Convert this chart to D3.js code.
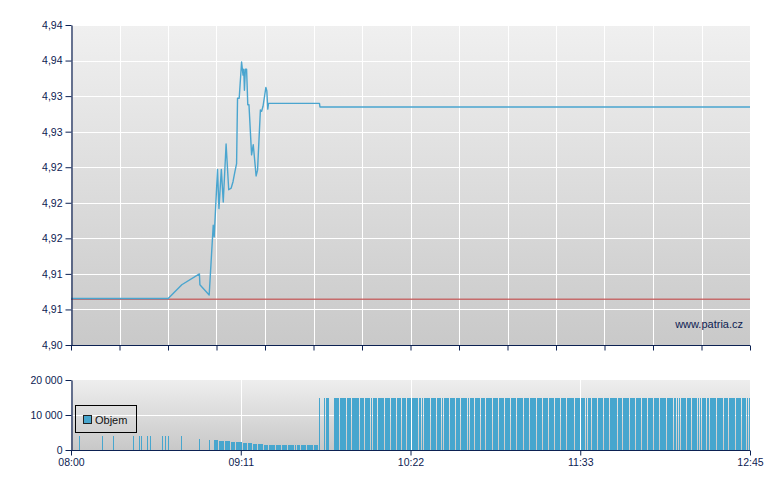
<!DOCTYPE html>
<html>
<head>
<meta charset="utf-8">
<script src="https://cdn.jsdelivr.net/npm/d3@7"></script>
<style>
  html, body { margin: 0; padding: 0; background: #ffffff; }
  svg { display: block; font-family: "Liberation Sans", Arial, sans-serif; }
</style>
</head>
<body>
<svg id="chart" width="780" height="490"></svg>
<script>
// ---------- DATA ----------
// price trace: minutes after 08:00 and price
const priceTime = [0, 40.8, 46.5, 53.9, 54.1, 58.0, 59.7, 60.1, 61.5, 62.1, 63.1, 63.9, 65.1, 66.2, 67.2, 68.0, 68.8, 69.5, 69.9, 70.6, 71.6, 72.2, 72.5, 72.8, 73.2, 73.7, 74.2, 74.7, 75.8, 76.5, 77.7, 78.3, 79.5, 80.0, 80.6, 81.8, 82.2, 82.6, 82.9, 104.3, 104.5, 285];
const priceValue = [4.9067, 4.9067, 4.9086, 4.9101, 4.9086, 4.9072, 4.9168, 4.9152, 4.9245, 4.9191, 4.9245, 4.9200, 4.9280, 4.9217, 4.9219, 4.9228, 4.9242, 4.9253, 4.9343, 4.9343, 4.9393, 4.9375, 4.9383, 4.9354, 4.9383, 4.9383, 4.9334, 4.9334, 4.9265, 4.9279, 4.9236, 4.9244, 4.9327, 4.9325, 4.9332, 4.9358, 4.9353, 4.9328, 4.9336, 4.9336, 4.9331, 4.9331];
const previousClose = 4.9066;

// volume: each entry starts at its time and lasts until the next entry
const volTime = [3.5, 4.0, 13.1, 13.6, 17.8, 18.3, 26.1, 26.6, 28.7, 29.2, 29.5, 30.0, 32.0, 32.5, 33.3, 33.8, 38.3, 38.8, 39.6, 40.1, 40.8, 41.3, 46.3, 46.8, 53.9, 54.4, 58.0, 58.5,
  60.0, 62.3, 64.8, 67.2, 69.3, 72.4, 74.3, 76.6, 78.7, 80.8, 83.3, 86.0, 88.6, 91.1, 94.0, 94.9, 96.5, 99.1, 102.0, 103.9,
  104.1, 104.6, 106.2, 106.9, 108.9, 110.4, 112.9, 115.8, 117.9, 121.3, 123.4, 125.9, 126.8, 128.9, 131.8, 134.3, 136.8, 138.9,
  141.0, 143.1, 146.1, 147.3, 148.2, 151.1, 153.6, 155.7, 156.6, 159.1, 161.6, 163.7, 166.6, 167.5, 169.6, 172.1, 174.2, 177.1,
  179.6, 182.2, 184.7, 187.2, 190.1, 192.7, 195.6, 198.1, 200.6, 203.1, 205.7, 208.2, 211.5, 214.1, 216.2, 217.0, 218.7, 221.2,
  223.7, 226.2, 229.6, 231.7, 234.6, 237.1, 239.7, 242.2, 244.7, 247.2, 250.2, 253.1, 254.4, 255.2, 256.0, 258.6, 260.7, 263.2,
  264.0, 264.8, 266.9, 268.2, 271.2, 274.1, 276.2, 279.1, 281.6, 283.7, 284.6];
const volValue = [4000, 0, 4000, 0, 4000, 0, 4000, 0, 4000, 0, 4000, 0, 4000, 0, 4000, 0, 4000, 0, 4000, 0, 4000, 0, 4000, 0, 3150, 0, 2850, 0,
  2850, 2600, 2570, 2300, 2300, 2100, 2050, 1750, 1750, 1450, 1450, 1450, 1450, 1450, 1450, 1450, 1450, 1450, 1450, 0,
  15000, 0, 15000, 15000, 0, 15000, 15000, 15000, 15000, 15000, 15000, 15000, 15000, 15000, 15000, 15000, 15000, 15000,
  15000, 15000, 15000, 15000, 15000, 15000, 15000, 15000, 15000, 15000, 15000, 15000, 15000, 15000, 15000, 15000, 15000, 15000,
  15000, 15000, 15000, 15000, 15000, 15000, 15000, 15000, 15000, 15000, 15000, 15000, 15000, 15000, 15000, 15000, 15000, 15000,
  15000, 15000, 15000, 15000, 15000, 15000, 15000, 15000, 15000, 15000, 15000, 15000, 15000, 15000, 15000, 15000, 15000, 15000,
  15000, 15000, 15000, 15000, 15000, 15000, 15000, 15000, 15000, 15000, 15000];
const sessionEnd = 285;

// ticks
const yTickValues = [4.9003, 4.9052, 4.9101, 4.9150, 4.9199, 4.9248, 4.9297, 4.9346, 4.9395, 4.9444];
const yTickLabels = ["4,90", "4,91", "4,91", "4,92", "4,92", "4,92", "4,93", "4,93", "4,94", "4,94"];
const xTickValues = [0, 71.25, 142.5, 213.75, 285];
const xTickLabels = ["08:00", "09:11", "10:22", "11:33", "12:45"];
const volTickValues = [0, 10000, 20000];
const volTickLabels = ["0", "10 000", "20 000"];
const legendLabel = "Objem";
const watermark = "www.patria.cz";

// ---------- LAYOUT ----------
const L = 71, R = 750;
const mainTop = 25, mainBottom = 345;
const volTop = 380, volBottom = 450;
const navy = "#0c2152";
const lineBlue = "#4aa5cf";
const barBlue = "#47a6ce";

const svg = d3.select("#chart");
const defs = svg.append("defs");
const g1 = defs.append("linearGradient").attr("id", "bgMain").attr("x1", 0).attr("y1", 0).attr("x2", 0).attr("y2", 1);
g1.append("stop").attr("offset", "0%").attr("stop-color", "#f0f0f0");
g1.append("stop").attr("offset", "100%").attr("stop-color", "#c9c9c9");
const g2 = defs.append("linearGradient").attr("id", "bgVol").attr("x1", 0).attr("y1", 0).attr("x2", 0).attr("y2", 1);
g2.append("stop").attr("offset", "0%").attr("stop-color", "#eeeeee");
g2.append("stop").attr("offset", "100%").attr("stop-color", "#c8c8c8");

const x = d3.scaleLinear().domain([0, sessionEnd]).range([L, R]);
const y = d3.scaleLinear().domain([yTickValues[0], yTickValues[yTickValues.length - 1]]).range([mainBottom, mainTop]);
const yv = d3.scaleLinear().domain([0, 20000]).range([volBottom, volTop]);

// ---------- MAIN PANEL ----------
svg.append("rect").attr("x", L).attr("y", mainTop).attr("width", R - L).attr("height", mainBottom - mainTop).attr("fill", "url(#bgMain)");

const mainXTicks = d3.range(15).map(i => i * sessionEnd / 14);
const grid = svg.append("g").attr("stroke", "#ffffff").attr("stroke-width", 1.2).attr("shape-rendering", "crispEdges");
grid.selectAll("line.h").data(yTickValues.slice(1)).join("line")
  .attr("x1", L).attr("x2", R).attr("y1", d => Math.round(y(d)) + 0.5).attr("y2", d => Math.round(y(d)) + 0.5);
grid.selectAll("line.v").data(mainXTicks.slice(1)).join("line")
  .attr("y1", mainTop).attr("y2", mainBottom).attr("x1", d => Math.round(x(d)) + 0.5).attr("x2", d => Math.round(x(d)) + 0.5);

// previous close
svg.append("line").attr("x1", L).attr("x2", R)
  .attr("y1", y(previousClose)).attr("y2", y(previousClose))
  .attr("stroke", "#c45a5a").attr("stroke-width", 1.4).attr("stroke-opacity", 0.85);

// price line
const priceData = priceTime.map((t, i) => [t, priceValue[i]]);
svg.append("path").datum(priceData)
  .attr("d", d3.line().x(d => x(d[0])).y(d => y(d[1])))
  .attr("fill", "none").attr("stroke", lineBlue).attr("stroke-width", 1.4).attr("stroke-linejoin", "round");

// watermark
svg.append("text").attr("x", 743).attr("y", 328).attr("text-anchor", "end")
  .attr("font-size", "11px").attr("fill", navy).text(watermark);

// axes main
const yAxis = d3.axisLeft(y).tickValues(yTickValues).tickFormat((d, i) => yTickLabels[i]).tickSize(6).tickSizeOuter(0).tickPadding(3);
const ya = svg.append("g").attr("transform", `translate(${L + 0.5},0)`).call(yAxis);
const xAxisMain = d3.axisBottom(x).tickValues(mainXTicks).tickFormat("").tickSize(5).tickSizeOuter(0);
const xa = svg.append("g").attr("transform", `translate(0,${mainBottom + 0.5})`).call(xAxisMain);

// ---------- VOLUME PANEL ----------
svg.append("rect").attr("x", L).attr("y", volTop).attr("width", R - L).attr("height", volBottom - volTop).attr("fill", "url(#bgVol)");
const vgrid = svg.append("g").attr("stroke", "#ffffff").attr("stroke-width", 1.2).attr("shape-rendering", "crispEdges");
vgrid.selectAll("line.h").data([10000]).join("line")
  .attr("x1", L).attr("x2", R).attr("y1", d => Math.round(yv(d)) + 0.5).attr("y2", d => Math.round(yv(d)) + 0.5);
vgrid.selectAll("line.v").data(xTickValues.slice(1, -1)).join("line")
  .attr("y1", volTop).attr("y2", volBottom).attr("x1", d => Math.round(x(d)) + 0.5).attr("x2", d => Math.round(x(d)) + 0.5);

const bars = volTime.map((t, i) => ({ t, v: volValue[i], next: i < volTime.length - 1 ? volTime[i + 1] : sessionEnd }))
  .filter(d => d.v > 0);
svg.append("g").attr("shape-rendering", "crispEdges").selectAll("rect").data(bars).join("rect")
  .attr("x", d => Math.round(x(d.t)))
  .attr("width", d => Math.max(1, Math.round(x(d.next)) - Math.round(x(d.t)) - 1))
  .attr("y", d => yv(d.v))
  .attr("height", d => yv(0) - yv(d.v))
  .attr("fill", barBlue);

// legend
const lg = svg.append("g");
lg.append("rect").attr("x", 75.5).attr("y", 405.5).attr("width", 61).attr("height", 27)
  .attr("fill", "none").attr("stroke", "#000000").attr("stroke-width", 1);
lg.append("rect").attr("x", 83.5).attr("y", 415.5).attr("width", 8).attr("height", 8)
  .attr("fill", barBlue).attr("stroke", "#222222").attr("stroke-width", 1);
lg.append("text").attr("x", 95).attr("y", 424).attr("font-size", "11px").attr("fill", "#111111").text(legendLabel);

// axes volume
const yvAxis = d3.axisLeft(yv).tickValues(volTickValues).tickFormat((d, i) => volTickLabels[i]).tickSize(6).tickSizeOuter(0).tickPadding(3);
const yva = svg.append("g").attr("transform", `translate(${L + 0.5},0)`).call(yvAxis);
const xvAxis = d3.axisBottom(x).tickValues(xTickValues).tickFormat((d, i) => xTickLabels[i]).tickSize(5).tickSizeOuter(0).tickPadding(3);
const xva = svg.append("g").attr("transform", `translate(0,${volBottom + 0.5})`).call(xvAxis);

[ya, xa, yva, xva].forEach(a => {
  a.selectAll("path.domain").attr("stroke", navy).attr("stroke-width", 1.2);
  a.selectAll(".tick line").attr("stroke", navy).attr("stroke-width", 1);
  a.selectAll(".tick text").attr("fill", navy).attr("font-size", "10.5px").attr("font-family", "'Liberation Sans', Arial, sans-serif");
});
// ensure horizontal axis extends across the panel
xa.select("path.domain").attr("d", `M${L},0H${R}`);
xva.select("path.domain").attr("d", `M${L},0H${R}`);
</script>
</body>
</html>
